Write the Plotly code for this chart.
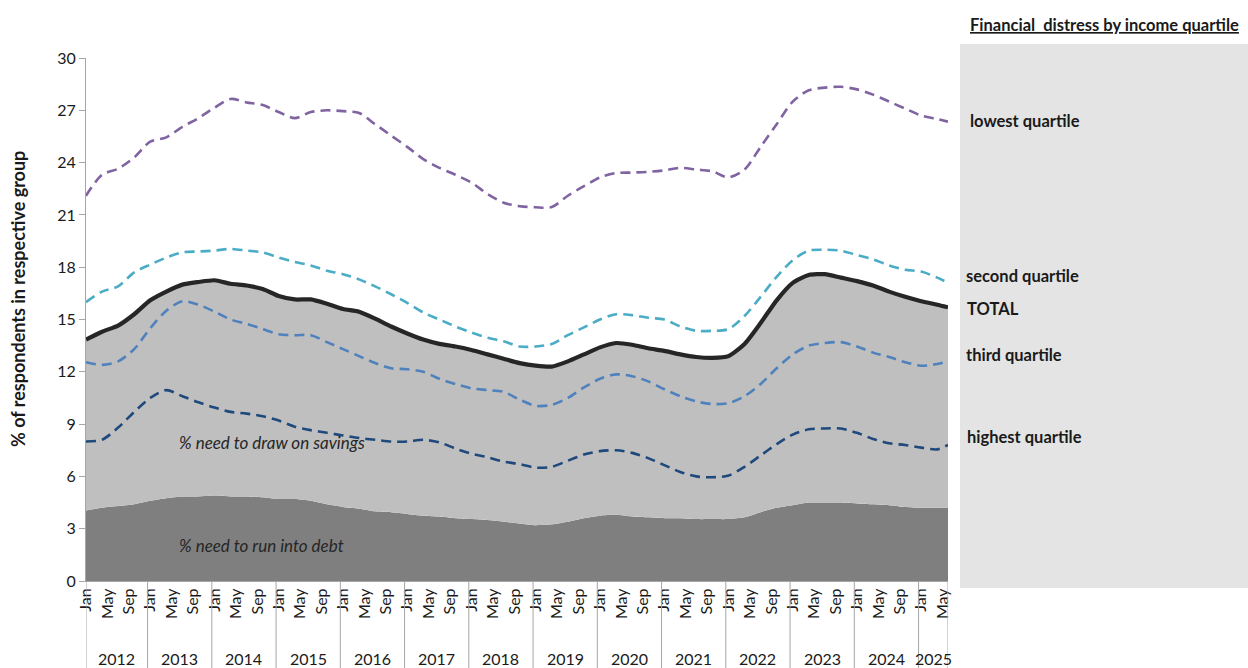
import plotly.graph_objects as go

# ---------------- data ----------------
dates = ["2012-01","2012-04","2012-07","2012-10","2013-01","2013-04","2013-07","2013-10",
         "2014-01","2014-04","2014-07","2014-10","2015-01","2015-04","2015-07","2015-10",
         "2016-01","2016-04","2016-07","2016-10","2017-01","2017-04","2017-07","2017-10",
         "2018-01","2018-04","2018-07","2018-10","2019-01","2019-04","2019-07","2019-10",
         "2020-01","2020-04","2020-07","2020-10","2021-01","2021-04","2021-07","2021-10",
         "2022-01","2022-04","2022-07","2022-10","2023-01","2023-04","2023-07","2023-10",
         "2024-01","2024-04","2024-07","2024-10","2025-01","2025-04","2025-06"]

lowest = [22.1,23.3,23.65,24.3,25.2,25.45,26.05,26.55,27.15,27.65,27.45,27.3,26.9,26.55,26.9,27.0,
          26.95,26.85,26.2,25.55,24.9,24.2,23.7,23.3,22.85,22.2,21.7,21.5,21.44,21.45,22.1,22.65,
          23.15,23.4,23.43,23.47,23.55,23.7,23.6,23.5,23.15,23.6,24.9,26.2,27.5,28.15,28.3,28.35,
          28.2,27.9,27.5,27.1,26.7,26.5,26.35]
second = [16.0,16.6,16.9,17.7,18.15,18.55,18.85,18.9,18.95,19.05,18.95,18.85,18.55,18.3,18.1,17.8,
          17.6,17.3,16.9,16.45,15.95,15.4,15.0,14.6,14.25,13.95,13.75,13.45,13.45,13.6,14.1,14.55,
          15.0,15.3,15.25,15.1,15.0,14.6,14.35,14.35,14.45,15.2,16.3,17.45,18.4,18.95,19.0,18.95,
          18.7,18.45,18.1,17.85,17.75,17.4,17.1]
total = [13.85,14.3,14.65,15.3,16.1,16.6,17.0,17.15,17.25,17.05,16.95,16.75,16.35,16.15,16.15,15.9,
         15.6,15.45,15.05,14.6,14.2,13.85,13.6,13.45,13.25,13.0,12.75,12.5,12.35,12.3,12.6,13.0,
         13.4,13.65,13.55,13.35,13.2,13.0,12.85,12.8,12.9,13.6,14.8,16.1,17.1,17.55,17.6,17.4,
         17.2,16.95,16.6,16.3,16.05,15.85,15.7]
third = [12.55,12.4,12.6,13.3,14.5,15.5,16.05,15.85,15.45,15.0,14.75,14.45,14.15,14.1,14.1,13.7,
         13.3,12.9,12.5,12.2,12.15,12.0,11.6,11.3,11.05,10.95,10.85,10.4,10.05,10.1,10.5,11.1,
         11.6,11.85,11.75,11.45,11.0,10.6,10.3,10.15,10.2,10.6,11.3,12.2,13.0,13.5,13.65,13.7,
         13.45,13.1,12.85,12.55,12.35,12.45,12.6]
highest = [8.0,8.1,8.8,9.7,10.5,10.95,10.6,10.25,9.95,9.7,9.6,9.45,9.2,8.85,8.65,8.5,
           8.35,8.2,8.1,8.0,8.0,8.1,7.95,7.6,7.3,7.1,6.85,6.7,6.5,6.55,6.9,7.25,
           7.45,7.5,7.35,7.05,6.65,6.25,6.0,5.95,6.05,6.55,7.2,7.85,8.4,8.7,8.75,8.75,
           8.5,8.15,7.9,7.8,7.65,7.55,7.8]
debt = [4.05,4.2,4.3,4.4,4.6,4.75,4.85,4.85,4.9,4.85,4.85,4.8,4.7,4.7,4.6,4.4,
        4.25,4.15,4.0,3.95,3.85,3.75,3.7,3.6,3.55,3.5,3.4,3.3,3.2,3.25,3.4,3.6,
        3.75,3.8,3.7,3.65,3.6,3.6,3.55,3.55,3.55,3.65,3.95,4.2,4.35,4.5,4.5,4.5,
        4.45,4.4,4.35,4.25,4.2,4.2,4.2]

years = list(range(2012, 2026))
month_ticks = ["Jan", "May", "Sep"]
y_ticks = list(range(0, 31, 3))

legend_labels = ["lowest quartile", "second quartile", "TOTAL", "third quartile", "highest quartile"]
panel_title = "Financial  distress by income quartile"
y_title = "% of respondents in respective group"
area_labels = ["% need to draw on savings", "% need to run into debt"]

# ---------------- helpers ----------------
START_YEAR = 2012
def mindex(d):
    y, m = d.split("-")
    return (int(y) - START_YEAR) * 12 + int(m) - 1

x = [mindex(d) for d in dates]
X_MAX = x[-1]

W, H = 1248, 668
L, R, T, B = 86, 948, 58, 581  # plot area in pixels
def px(xp):
    return (xp - L) / (R - L)
def py(yp):
    return (B - yp) / (B - T)

FONT = "Lato, Open Sans, sans-serif"
DASH = "10px,6px"
TXT = "#1a1a1a"

fig = go.Figure()

# areas
fig.add_trace(go.Scatter(x=x, y=debt, mode="lines", line=dict(width=0, color="#7f7f7f", shape="spline", smoothing=0.6),
                         fill="tozeroy", fillcolor="#7f7f7f", hoverinfo="skip", showlegend=False))
fig.add_trace(go.Scatter(x=x, y=total, mode="lines", line=dict(width=0, color="#bfbfbf", shape="spline", smoothing=0.6),
                         fill="tonexty", fillcolor="#bfbfbf", hoverinfo="skip", showlegend=False))

# dashed quartile lines
for vals, col in [(lowest, "#8064a2"), (second, "#4bacc6"), (third, "#4f81bd"), (highest, "#1f497d")]:
    fig.add_trace(go.Scatter(x=x, y=vals, mode="lines",
                             line=dict(color=col, width=2.6, dash=DASH, shape="spline", smoothing=0.8),
                             showlegend=False))

# total line
fig.add_trace(go.Scatter(x=x, y=total, mode="lines",
                         line=dict(color="#262626", width=4.2, shape="spline", smoothing=0.6),
                         showlegend=False))

# x tick values: Jan, May, Sep of each year
tickvals, ticktext = [], []
for i in range(0, X_MAX + 1, 4):
    tickvals.append(i)
    ticktext.append(month_ticks[(i % 12) // 4])

shapes = []
annotations = []
# year separators and labels
bounds = [0] + [12 * k - 0.5 for k in range(1, len(years))] + [X_MAX]
for k, yr in enumerate(years):
    a, b = bounds[k], bounds[k + 1]
    annotations.append(dict(x=(a + b) / 2, y=py(658), xref="x", yref="paper", text=str(yr),
                            showarrow=False, font=dict(size=16, color=TXT, family=FONT),
                            xanchor="center", yanchor="middle"))
for bx in bounds:
    shapes.append(dict(type="line", xref="x", yref="paper", x0=bx, x1=bx, y0=0, y1=py(668),
                       line=dict(color="#a6a6a6", width=1)))

# right panel
shapes.append(dict(type="rect", xref="paper", yref="paper", x0=px(960), x1=px(1248),
                   y0=py(588), y1=py(44), fillcolor="#e4e4e4", line=dict(width=0), layer="below"))
annotations.append(dict(x=px(1104), y=py(25), xref="paper", yref="paper",
                        text="<b><u>" + panel_title + "</u></b>", showarrow=False,
                        font=dict(size=16.5, color=TXT, family=FONT), xanchor="center", yanchor="middle"))
label_y = [121, 276, 309, 355, 437]
label_x = [968, 964, 965, 964, 965]
for t, ly, lx in zip(legend_labels, label_y, label_x):
    annotations.append(dict(x=px(lx), y=py(ly), xref="paper", yref="paper", text="<b>" + t + "</b>",
                            showarrow=False, font=dict(size=16.5, color=TXT, family=FONT),
                            xanchor="left", yanchor="middle"))

# area labels
annotations.append(dict(x=mindex("2013-06"), y=7.95, xref="x", yref="y", text="<i>" + area_labels[0] + "</i>",
                        showarrow=False, font=dict(size=17, color="#262626", family=FONT), xanchor="left"))
annotations.append(dict(x=mindex("2013-06"), y=2.05, xref="x", yref="y", text="<i>" + area_labels[1] + "</i>",
                        showarrow=False, font=dict(size=17, color="#262626", family=FONT), xanchor="left"))

# y axis title
annotations.append(dict(x=px(18), y=py(299), xref="paper", yref="paper", text="<b>" + y_title + "</b>",
                        textangle=-90, showarrow=False, font=dict(size=18, color=TXT, family=FONT),
                        xanchor="center", yanchor="middle"))

fig.update_layout(
    width=W, height=H,
    margin=dict(l=L, r=W - R, t=T, b=H - B, pad=0),
    paper_bgcolor="white", plot_bgcolor="white",
    font=dict(family=FONT, color=TXT),
    xaxis=dict(range=[0, X_MAX], tickvals=tickvals, ticktext=ticktext, tickangle=-90,
               showgrid=False, zeroline=False, showline=True, linecolor="#a6a6a6", linewidth=1,
               ticks="", tickfont=dict(size=16, color=TXT, family=FONT)),
    yaxis=dict(range=[0, 30], tickvals=y_ticks, showgrid=False, zeroline=False,
               showline=True, linecolor="#a6a6a6", linewidth=1, ticks="outside", ticklen=6,
               tickcolor="#a6a6a6", tickfont=dict(size=16, color=TXT, family=FONT)),
    shapes=shapes, annotations=annotations, showlegend=False,
)

fig.write_html("out.html", config={"displayModeBar": False},
               post_script="document.body.style.margin='0';document.body.style.overflow='hidden';")
